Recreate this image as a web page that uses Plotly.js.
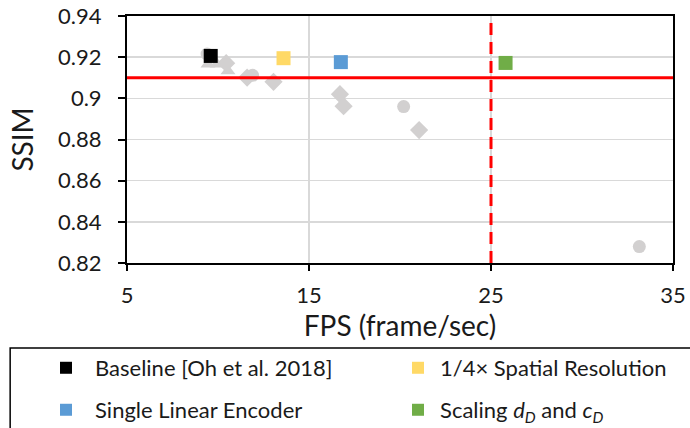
<!DOCTYPE html>
<html>
<head>
<meta charset="utf-8">
<script src="https://cdn.plot.ly/plotly-3.0.1.min.js"></script>
<style>
  html, body { margin: 0; padding: 0; background: #fff; }
  #chart { width: 690px; height: 428px; }
</style>
</head>
<body>
<div id="chart"></div>
<script>
// Highlighted configurations (FPS, SSIM)
const baselineFps = [9.6];
const baselineSsim = [0.9206];
const quarterResFps = [13.6];
const quarterResSsim = [0.9195];
const linearEncFps = [16.75];
const linearEncSsim = [0.9176];
const scalingFps = [25.8];
const scalingSsim = [0.9172];

// Other explored configurations, grouped by marker shape
const otherCircleFps = [9.4, 11.9, 20.2, 33.15];
const otherCircleSsim = [0.9215, 0.9112, 0.8960, 0.8280];
const otherDiamondFps = [10.45, 11.6, 13.05, 16.7, 16.9, 21.05];
const otherDiamondSsim = [0.9171, 0.9101, 0.9080, 0.9020, 0.8962, 0.8846];
const otherTriangleFps = [9.45, 9.95, 10.55];
const otherTriangleSsim = [0.9166, 0.9166, 0.9133];

// Reference thresholds
const ssimTarget = 0.91;
const fpsTarget = 25;

const xTicks = [5, 15, 25, 35];
const yTicks = [0.82, 0.84, 0.86, 0.88, 0.9, 0.92, 0.94];
const yTickText = ['0.82', '0.84', '0.86', '0.88', '0.9', '0.92', '0.94'];

const xRange = [5, 35];
const yRange = [0.82, 0.94];

const gray = 'rgb(210,208,208)';
const font = 'Lato, "Open Sans", sans-serif';
const textColor = '#1a1a1a';

const traces = [
  { x: otherTriangleFps, y: otherTriangleSsim, mode: 'markers', type: 'scatter',
    marker: { symbol: 'triangle-up', size: 13, color: gray }, showlegend: false, hoverinfo: 'skip' },
  { x: otherCircleFps, y: otherCircleSsim, mode: 'markers', type: 'scatter',
    marker: { symbol: 'circle', size: 13, color: gray }, showlegend: false, hoverinfo: 'skip' },
  { x: otherDiamondFps, y: otherDiamondSsim, mode: 'markers', type: 'scatter',
    marker: { symbol: 'diamond', size: 14, color: gray }, showlegend: false, hoverinfo: 'skip' },
  { x: xRange, y: [ssimTarget, ssimTarget], mode: 'lines', type: 'scatter',
    line: { color: '#ff0000', width: 3 }, showlegend: false, hoverinfo: 'skip' },
  { x: [fpsTarget, fpsTarget], y: yRange, mode: 'lines', type: 'scatter',
    line: { color: '#ff0000', width: 3, dash: '12px,7px' }, showlegend: false, hoverinfo: 'skip' },
  { x: baselineFps, y: baselineSsim, mode: 'markers', type: 'scatter', name: 'Baseline [Oh et al. 2018]',
    marker: { symbol: 'square', size: 14, color: '#000000' }, legend: 'legend' },
  { x: quarterResFps, y: quarterResSsim, mode: 'markers', type: 'scatter', name: '1/4× Spatial Resolution',
    marker: { symbol: 'square', size: 14, color: '#ffd966' }, legend: 'legend2' },
  { x: linearEncFps, y: linearEncSsim, mode: 'markers', type: 'scatter', name: 'Single Linear Encoder',
    marker: { symbol: 'square', size: 14, color: '#5b9bd5' }, legend: 'legend3' },
  { x: scalingFps, y: scalingSsim, mode: 'markers', type: 'scatter',
    name: 'Scaling <i>d</i><sub><i>D</i></sub> and <i>c</i><sub><i>D</i></sub>',
    marker: { symbol: 'square', size: 14, color: '#70ad47' }, legend: 'legend4' }
];

// One single-entry legend per cell of the 2x2 key
function legendAt(x, y, itemWidth) {
  return {
    x: x, y: y,
    xanchor: 'left',
    yanchor: 'middle',
    orientation: 'h',
    bgcolor: 'rgba(0,0,0,0)',
    borderwidth: 0,
    itemwidth: itemWidth,
    font: { family: font, size: 22, color: textColor },
    itemsizing: 'constant'
  };
}

const layout = {
  width: 690,
  height: 428,
  margin: { l: 127, r: 17, t: 16, b: 165, autoexpand: false },
  paper_bgcolor: '#ffffff',
  plot_bgcolor: '#ffffff',
  font: { family: font, color: textColor },
  xaxis: {
    range: xRange,
    tickvals: xTicks,
    ticktext: xTicks.map(String),
    showgrid: true,
    gridcolor: '#d9d9d9',
    gridwidth: 1.5,
    zeroline: false,
    showline: true,
    linecolor: '#000000',
    linewidth: 2,
    mirror: true,
    ticks: 'outside',
    ticklen: 6,
    tickwidth: 2,
    tickcolor: '#000000',
    ticklabelstandoff: 6,
    tickfont: { family: font, size: 22, color: textColor },
    title: { text: 'FPS (frame/sec)', font: { family: font, size: 28, color: textColor }, standoff: 6 }
  },
  yaxis: {
    range: yRange,
    tickvals: yTicks,
    ticktext: yTickText,
    showgrid: true,
    gridcolor: '#d9d9d9',
    gridwidth: 1.5,
    zeroline: false,
    showline: true,
    linecolor: '#000000',
    linewidth: 2,
    mirror: true,
    ticks: 'outside',
    ticklen: 7,
    tickwidth: 2,
    tickcolor: '#000000',
    ticklabelstandoff: 12,
    tickfont: { family: font, size: 22, color: textColor },
    title: { text: 'SSIM', font: { family: font, size: 28, color: textColor }, standoff: 16 }
  },
  legend: legendAt(-0.1648, -0.425, 48),
  legend2: legendAt(0.4927, -0.425, 34),
  legend3: legendAt(-0.1648, -0.595, 48),
  legend4: legendAt(0.4927, -0.595, 34),
  shapes: [
    { type: 'rect', xref: 'paper', yref: 'paper',
      x0: -0.214, x1: 1.05, y0: -0.75, y1: -0.344,
      line: { color: '#000000', width: 1.5 }, fillcolor: 'rgba(0,0,0,0)', layer: 'above' }
  ]
};

Plotly.newPlot('chart', traces, layout, { displayModeBar: false, staticPlot: true });
</script>
</body>
</html>
